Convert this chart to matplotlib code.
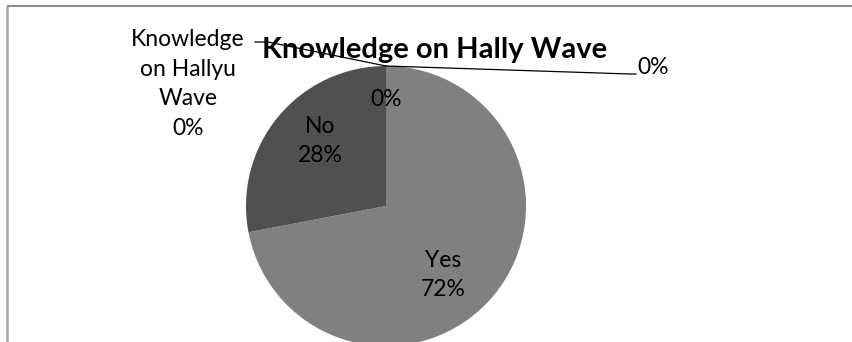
import matplotlib
matplotlib.use("Agg")
import matplotlib.pyplot as plt

# --- data ---
categories = ["Yes", "No", "Knowledge on Hallyu Wave", ""]
values = [72, 28, 0, 0]
colors = ["#808080", "#505050", "#6a6a6a", "#6a6a6a"]
title = "Knowledge on Hally Wave"

plt.rcParams['font.family'] = ['Lato', 'DejaVu Sans']

W, H = 853, 342
fig = plt.figure(figsize=(W / 100, H / 100), dpi=100)
ax = fig.add_axes([0, 0, 1, 1])

# pie in pixel coords (y measured from the bottom)
cx, cy, r = 386, H - 206, 140
ax.pie(values, colors=colors, startangle=90, counterclock=False,
       center=(cx, cy), radius=r, frame=True,
       wedgeprops=dict(linewidth=0))
ax.set_xlim(0, W)
ax.set_ylim(0, H)
ax.set_aspect('equal')
ax.axis('off')

def pct(v):
    return f"{round(v / sum(values) * 100)}%"

fs = 16.5
ls = 1.5
# inside labels
ax.text(443, H - 275, f"{categories[0]}\n{pct(values[0])}", ha='center', va='center',
        fontsize=fs, linespacing=ls)
ax.text(320, H - 141, f"{categories[1]}\n{pct(values[1])}", ha='center', va='center',
        fontsize=fs, linespacing=ls)
ax.text(386, H - 100, pct(values[3]), ha='center', va='center', fontsize=fs)

# outside label with leader line (left)
ax.text(188, H - 84, "Knowledge\non Hallyu\nWave\n" + pct(values[2]), ha='center', va='center',
        fontsize=fs, linespacing=ls)
ax.plot([255, 268, cx], [H - 42, H - 42, H - 66], color='black', lw=0.9)

# outside label with leader line (right)
ax.plot([cx, 630, 636], [H - 66, H - 74, H - 74], color='black', lw=0.9)
ax.text(637, H - 68, pct(values[3]), ha='left', va='center', fontsize=fs)

# title
ax.text(435, H - 50, title, ha='center', va='center', fontsize=21, fontweight='bold')

# chart border (top and left edges visible)
ax.plot([7, W], [H - 6, H - 6], color='#8c8c8c', lw=1.5, solid_capstyle='butt')
ax.plot([7, 7], [0, H - 6], color='#a6a6a6', lw=1.8, solid_capstyle='butt')

fig.savefig("out.png", dpi=100)
